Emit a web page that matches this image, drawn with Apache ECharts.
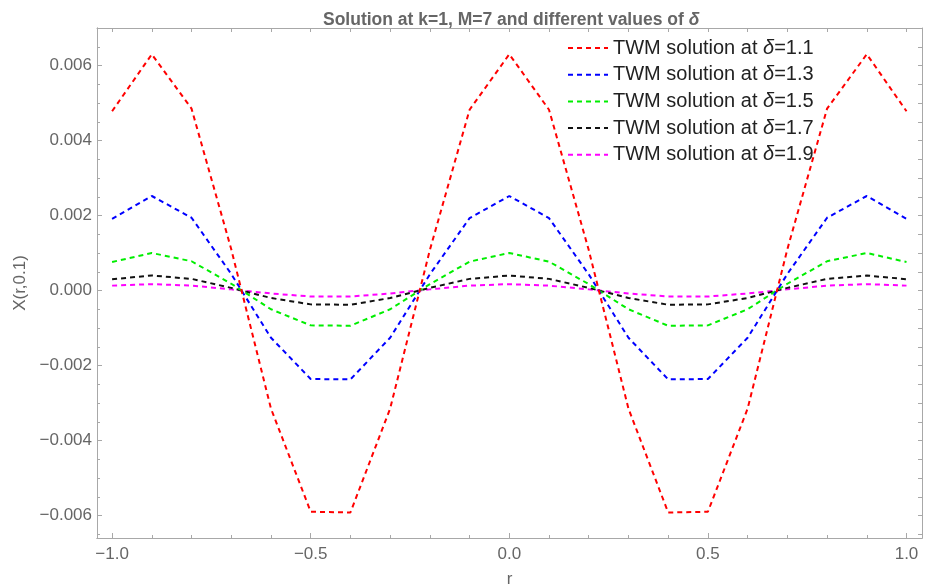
<!DOCTYPE html>
<html>
<head>
<meta charset="utf-8">
<script src="https://cdn.jsdelivr.net/npm/echarts@6/dist/echarts.min.js"></script>
<style>html,body{margin:0;padding:0;background:#fff}#c{width:930px;height:586px}</style>
</head>
<body>
<div id="c"></div>
<script>
const rValues = [-1.0,-0.9,-0.8,-0.7,-0.6,-0.5,-0.4,-0.3,-0.2,-0.1,0.0,0.1,0.2,0.3,0.4,0.5,0.6,0.7,0.8,0.9,1.0];
const delta11 = [0.00478,0.00630,0.00485,0.00110,-0.00315,-0.00590,-0.00592,-0.00315,0.00108,0.00482,0.00630,0.00482,0.00108,-0.00315,-0.00592,-0.00590,-0.00315,0.00110,0.00485,0.00630,0.00478];
const delta13 = [0.00191,0.00252,0.00194,0.00044,-0.00126,-0.00236,-0.00237,-0.00126,0.00043,0.00193,0.00252,0.00193,0.00043,-0.00126,-0.00237,-0.00236,-0.00126,0.00044,0.00194,0.00252,0.00191];
const delta15 = [0.00076,0.00100,0.00078,0.00018,-0.00050,-0.00093,-0.00094,-0.00050,0.00017,0.00077,0.00100,0.00077,0.00017,-0.00050,-0.00094,-0.00093,-0.00050,0.00018,0.00078,0.00100,0.00076];
const delta17 = [0.00030,0.00040,0.00031,0.00007,-0.00020,-0.00037,-0.00038,-0.00020,0.00007,0.00031,0.00040,0.00031,0.00007,-0.00020,-0.00038,-0.00037,-0.00020,0.00007,0.00031,0.00040,0.00030];
const delta19 = [0.00013,0.00017,0.00013,0.00003,-0.00008,-0.00016,-0.00016,-0.00008,0.00003,0.00013,0.00017,0.00013,0.00003,-0.00008,-0.00016,-0.00016,-0.00008,0.00003,0.00013,0.00017,0.00013];
const seriesNames = ['TWM solution at δ=1.1','TWM solution at δ=1.3','TWM solution at δ=1.5','TWM solution at δ=1.7','TWM solution at δ=1.9'];
const seriesColors = ['#ff0000','#0000ff','#00ee00','#111111','#ff00ff'];
const xMajorTicks = [-1.0,-0.5,0.0,0.5,1.0];
const xMinorTicks = [-0.9,-0.8,-0.7,-0.6,-0.4,-0.3,-0.2,-0.1,0.1,0.2,0.3,0.4,0.6,0.7,0.8,0.9];
const yMajorTicks = [-0.006,-0.004,-0.002,0.000,0.002,0.004,0.006];
const yMinorTicks = [-0.0065,-0.0055,-0.005,-0.0045,-0.0035,-0.003,-0.0025,-0.0015,-0.001,-0.0005,0.0005,0.001,0.0015,0.0025,0.003,0.0035,0.0045,0.005,0.0055,0.0065];
const allSeries = [delta11, delta13, delta15, delta17, delta19];

const XMIN = -1.038, XMAX = 1.039, YMIN = -0.0066, YMAX = 0.0070;
const axisGray = '#a8a8a8';
const labelGray = '#666666';
const fontFam = '"Liberation Sans", Arial, sans-serif';
const minus = s => s.replace('-', '\u2212');

const chart = echarts.init(document.getElementById('c'), null, {renderer: 'canvas'});

function xAx(opts) {
  return Object.assign({
    type: 'value', min: XMIN, max: XMAX, splitLine: {show: false},
    axisLine: {show: true, onZero: false, lineStyle: {color: axisGray, width: 1}},
    axisLabel: {show: false}, axisTick: {show: false}
  }, opts);
}
function yAx(opts) {
  return Object.assign({
    type: 'value', min: YMIN, max: YMAX, splitLine: {show: false},
    axisLine: {show: true, onZero: false, lineStyle: {color: axisGray, width: 1}},
    axisLabel: {show: false}, axisTick: {show: false}
  }, opts);
}

const option = {
  animation: false,
  backgroundColor: '#ffffff',
  title: {
    text: 'Solution at k=1, M=7 and different values of {i|δ}',
    left: 318, top: 6,
    textStyle: {
      fontFamily: fontFam, fontSize: 17.5, fontWeight: 'bold', color: labelGray,
      rich: {i: {fontFamily: fontFam, fontSize: 17.5, fontStyle: 'italic', fontWeight: 'bold', color: labelGray}}
    }
  },
  legend: {
    orient: 'vertical', left: 562, top: 33,
    itemWidth: 40, itemHeight: 14, itemGap: 6.7,
    data: seriesNames,
    itemStyle: {opacity: 0},
    formatter: name => {
      const parts = name.split('δ');
      return '{n|' + parts[0] + '}{i|δ}{n|' + parts[1] + '}';
    },
    textStyle: {
      fontFamily: fontFam, fontSize: 20, color: '#222', lineHeight: 20,
      rich: {
        n: {fontFamily: fontFam, fontSize: 20, color: '#222'},
        i: {fontFamily: fontFam, fontSize: 20, color: '#222', fontStyle: 'italic'}
      }
    }
  },
  grid: {left: 97, right: 8, top: 28, bottom: 48, containLabel: false, outerBoundsMode: 'none'},
  xAxis: [
    xAx({
      position: 'bottom', name: 'r', nameLocation: 'middle', nameGap: 33,
      nameTextStyle: {fontFamily: fontFam, fontSize: 17, color: labelGray},
      axisTick: {show: true, inside: true, length: 5, customValues: xMajorTicks, lineStyle: {color: axisGray}},
      axisLabel: {show: true, customValues: xMajorTicks, margin: 8, fontFamily: fontFam, fontSize: 17, color: labelGray,
        formatter: v => minus(Number(v).toFixed(1))}
    }),
    xAx({
      position: 'bottom',
      axisTick: {show: true, inside: true, length: 3, customValues: xMinorTicks, lineStyle: {color: axisGray}}
    }),
    xAx({
      position: 'top',
      axisTick: {show: true, inside: true, length: 4, customValues: xMajorTicks.concat(xMinorTicks), lineStyle: {color: axisGray}}
    })
  ],
  yAxis: [
    yAx({
      position: 'left', name: 'X(r,0.1)', nameLocation: 'middle', nameGap: 66,
      nameTextStyle: {fontFamily: fontFam, fontSize: 17, color: labelGray},
      axisTick: {show: true, inside: true, length: 5, customValues: yMajorTicks, lineStyle: {color: axisGray}},
      axisLabel: {show: true, customValues: yMajorTicks, margin: 5, fontFamily: fontFam, fontSize: 17, color: labelGray,
        formatter: v => minus(Number(v).toFixed(3))}
    }),
    yAx({
      position: 'left',
      axisTick: {show: true, inside: true, length: 3, customValues: yMinorTicks, lineStyle: {color: axisGray}}
    }),
    yAx({
      position: 'right',
      axisTick: {show: true, inside: true, length: 4, customValues: yMajorTicks.concat(yMinorTicks), lineStyle: {color: axisGray}}
    })
  ],
  series: allSeries.map((vals, i) => ({
    name: seriesNames[i],
    type: 'line',
    xAxisIndex: 0, yAxisIndex: 0,
    data: rValues.map((r, j) => [r, vals[j]]),
    symbol: 'none', showSymbol: false,
    lineStyle: {color: seriesColors[i], width: 2, type: [5, 4]},
    itemStyle: {color: seriesColors[i]},
    z: 10 - i
  }))
};
chart.setOption(option);
</script>
</body>
</html>
